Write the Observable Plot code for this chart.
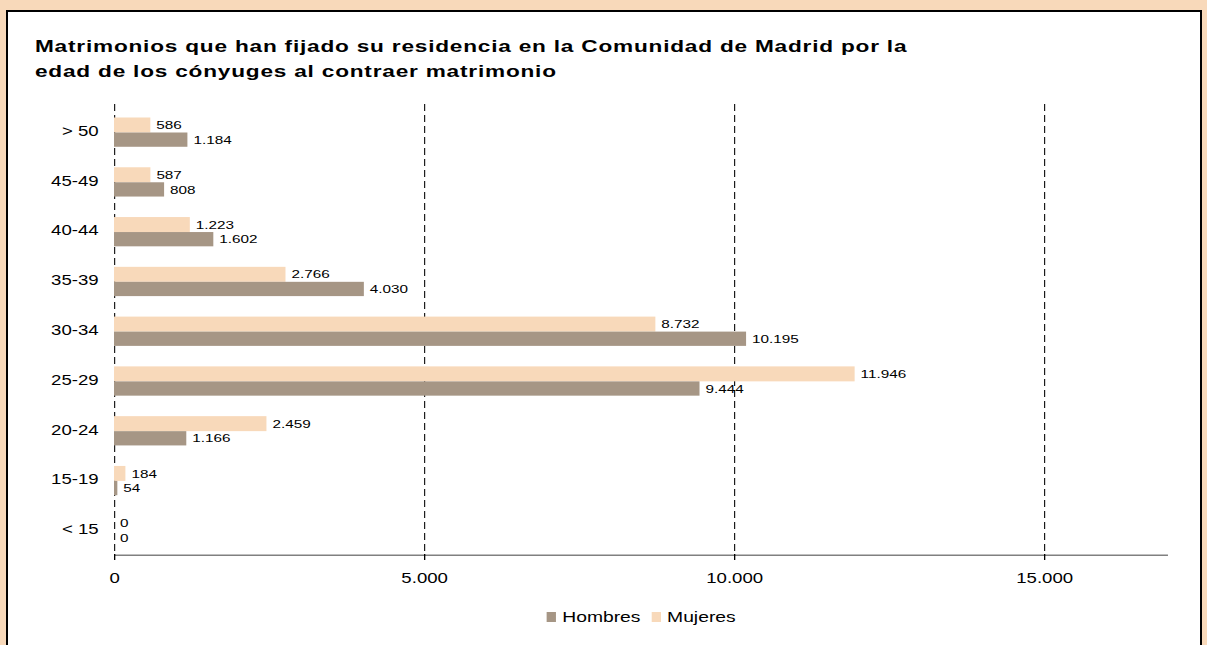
<!DOCTYPE html>
<html><head><meta charset="utf-8">
<script src="https://cdn.jsdelivr.net/npm/d3@7"></script>
<script src="https://cdn.jsdelivr.net/npm/@observablehq/plot@0.6"></script>
<style>
html,body{margin:0;padding:0;background:#F8D9BA;width:1207px;height:645px;overflow:hidden;font-family:"Liberation Sans",Arial,sans-serif;}
#panel{position:absolute;left:6px;top:10px;width:1192px;height:700px;border:2px solid #000;background:#fff;}
#stage{position:absolute;left:0;top:0;width:907.5px;height:645px;transform:scaleX(1.33);transform-origin:0 0;}
#title{position:absolute;left:26.3px;top:34px;font-weight:bold;font-size:17px;letter-spacing:0.6px;line-height:25px;color:#000;white-space:nowrap;}
#chart{position:absolute;left:0;top:0;}
#legend{position:absolute;top:609px;display:flex;justify-content:center;align-items:center;font-size:14.5px;color:#000;}
.item{display:flex;align-items:center;margin:0 4px;}
.sw{display:inline-block;width:7.5px;height:10px;margin-right:4.5px;}
</style>
</head><body>
<div id="panel"></div>
<div id="stage">
  <div id="title">Matrimonios que han fijado su residencia en la Comunidad de Madrid por la<br>edad de los cónyuges al contraer matrimonio</div>
  <div id="chart"></div>
  <div id="legend"></div>
</div>
<script>
const categories = ["> 50","45-49","40-44","35-39","30-34","25-29","20-24","15-19","< 15"];
const hombres = [1184, 808, 1602, 4030, 10195, 9444, 1166, 54, 0];
const mujeres = [586, 587, 1223, 2766, 8732, 11946, 2459, 184, 0];
const xTicks = [0, 5000, 10000, 15000];
const seriesNames = ["Hombres", "Mujeres"];
const colors = {"Hombres": "#A69685", "Mujeres": "#F8D9BA"};

const S = 1.33;
const W = 1207 / S;
const ML = 114 / S;
const MR = (1207 - 1168) / S;

const fmt = d3.formatLocale({decimal: ",", thousands: ".", grouping: [3], currency: ["", "€"]}).format(",");

const hData = categories.map((c, i) => ({c, v: hombres[i]}));
const mData = categories.map((c, i) => ({c, v: mujeres[i]}));

const chart = Plot.plot({
  width: W,
  height: 600,
  marginLeft: ML,
  marginRight: MR,
  marginTop: 106,
  marginBottom: 46,
  style: {fontFamily: '"Liberation Sans", Arial, sans-serif', fontSize: "14px", background: "transparent", color: "#000"},
  x: {domain: [0, 17000]},
  y: {domain: categories, paddingInner: 0, paddingOuter: 0, round: false},
  marks: [
    Plot.ruleX(xTicks, {stroke: "#000", strokeDasharray: "7,4", strokeWidth: 0.8, insetTop: -2}),
    Plot.barX(mData, {x: "v", y: "c", fill: colors.Mujeres, insetTop: 11.5, insetBottom: 23.3}),
    Plot.barX(hData, {x: "v", y: "c", fill: colors.Hombres, insetTop: 26.5, insetBottom: 9}),
    Plot.ruleY([categories[categories.length - 1]], {x1: 0, x2: 17000, dy: 25.6, stroke: "#808080", strokeWidth: 1.5}),
    Plot.text(mData, {x: "v", y: "c", text: d => fmt(d.v), textAnchor: "start", dx: 4, dy: -6, fontSize: 11.5, fill: "#000"}),
    Plot.text(hData, {x: "v", y: "c", text: d => fmt(d.v), textAnchor: "start", dx: 4, dy: 8.7, fontSize: 11.5, fill: "#000"}),
    Plot.axisX({ticks: xTicks, tickFormat: fmt, tickSize: 6, tickPadding: 13, fontSize: 14, label: null}),
    Plot.axisY({tickSize: 0, tickPadding: 12, fontSize: 14, label: null})
  ]
});
document.getElementById("chart").appendChild(chart);

const legend = document.getElementById("legend");
legend.style.left = ML + "px";
legend.style.width = (W - ML - MR) + "px";
for (const name of seriesNames) {
  const it = document.createElement("div");
  it.className = "item";
  const sw = document.createElement("span");
  sw.className = "sw";
  sw.style.background = colors[name];
  it.appendChild(sw);
  it.appendChild(document.createTextNode(name));
  legend.appendChild(it);
}
</script>
</body></html>
